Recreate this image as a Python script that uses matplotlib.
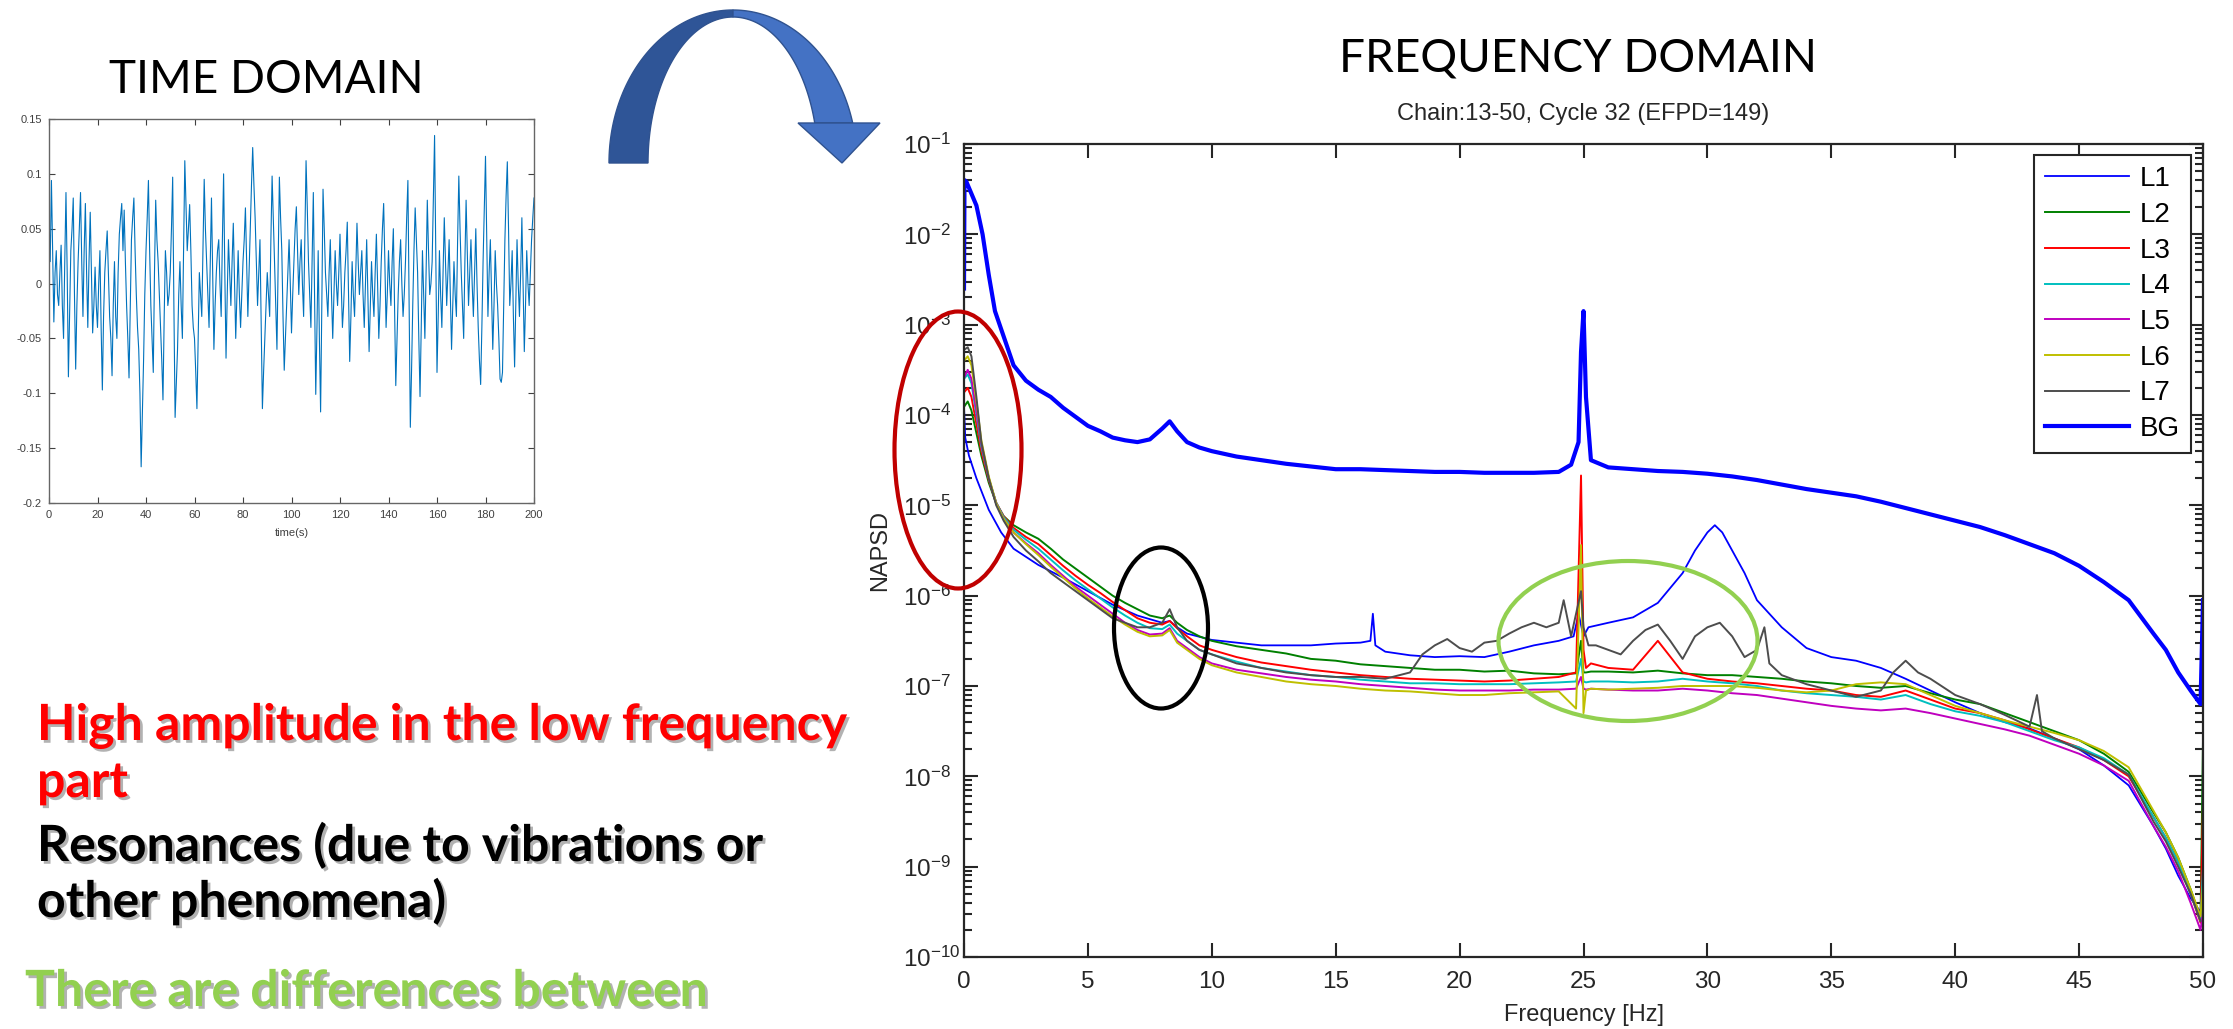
import numpy as np
import matplotlib
matplotlib.use("Agg")
import matplotlib.pyplot as plt
from matplotlib.patches import Ellipse, Polygon
import matplotlib.patheffects as pe

plt.rcParams["font.family"] = ["Liberation Sans", "DejaVu Sans"]
plt.rcParams["mathtext.fontset"] = "custom"
plt.rcParams["mathtext.rm"] = "Liberation Sans"
plt.rcParams["mathtext.default"] = "regular"

# ---- time domain signal ----
# values at whole seconds
amplitude = [
    0.06, 0.094, -0.035, 0.03, -0.02, 0.035, -0.05, 0.083, -0.085, 0.03,
    0.078, -0.078, 0.02, 0.083, -0.03, 0.073, -0.04, 0.065, -0.045, 0.015,
    -0.04, 0.03, -0.097, 0.01, 0.048, -0.03, -0.084, 0.02, -0.05, 0.045,
    0.073, 0.067, -0.02, -0.086, 0.04, 0.078, -0.01, -0.06, -0.167, -0.07,
    0.03, 0.094, -0.02, -0.081, 0.076, 0.02, -0.04, -0.106, 0.03, -0.02,
    0.01, 0.097, -0.122, -0.06, 0.02, -0.05, 0.112, 0.03, 0.072, -0.02,
    -0.05, -0.114, 0.01, -0.03, 0.095, 0.02, -0.04, 0.078, -0.06, 0.01,
    0.04, -0.03, 0.1, -0.068, 0.04, -0.02, 0.055, -0.05, 0.03, -0.04,
    0.02, 0.069, -0.03, 0.05, 0.124, 0.06, -0.02, 0.04, -0.114, -0.05,
    0.01, -0.03, 0.098, 0.02, -0.06, 0.097, 0.03, -0.079, -0.02, 0.04,
    -0.045, 0.02, 0.07, -0.01, 0.04, -0.03, 0.112, 0.02, -0.04, 0.083,
    -0.101, 0.03, -0.117, 0.086, 0.01, -0.03, 0.04, -0.05, 0.03, -0.02,
    0.045, -0.04, 0.01, 0.056, -0.071, 0.02, -0.03, 0.055, -0.01, 0.03,
    -0.04, 0.04, -0.062, 0.02, -0.03, 0.045, -0.05, 0.02, 0.073, -0.04,
    0.03, -0.02, 0.05, -0.093, -0.01, 0.04, -0.03, 0.02, 0.094, -0.131,
    -0.02, 0.069, 0.01, -0.103, 0.03, -0.05, 0.076, -0.01, 0.02, 0.135,
    -0.081, 0.03, -0.04, 0.06, -0.02, 0.04, -0.06, 0.02, -0.03, 0.098,
    0.01, -0.05, 0.076, -0.02, 0.04, -0.03, 0.05, -0.04, -0.092, 0.02,
    0.116, -0.03, 0.04, -0.06, 0.03, -0.02, -0.087, -0.081, 0.04, 0.111,
    -0.02, 0.03, -0.076, 0.04, -0.03, 0.06, -0.062, 0.03, -0.02, 0.04,
    0.078,
]
# values half way between the whole seconds
amplitude_mid = [
    0.02, 0.03, 0.01, -0.01, 0.01, -0.02, 0.02, 0.01, -0.03, 0.05,
    -0.01, -0.02, 0.05, 0.02, 0.03, 0.01, 0.02, 0.01, -0.02, -0.02,
    0.00, -0.04, -0.03, 0.03, 0.01, -0.05, -0.02, -0.03, 0.01, 0.06,
    0.03, 0.02, -0.05, -0.02, 0.06, 0.03, -0.04, -0.10, -0.12, -0.01,
    0.06, 0.03, -0.05, 0.01, 0.04, -0.01, -0.07, -0.03, 0.01, -0.01,
    0.05, -0.02, -0.09, -0.01, -0.02, 0.03, 0.07, 0.05, 0.03, -0.04,
    -0.08, -0.05, -0.01, 0.03, 0.05, -0.01, 0.02, 0.01, -0.02, 0.03,
    0.00, 0.04, 0.01, -0.01, 0.01, 0.02, 0.00, -0.01, -0.01, -0.01,
    0.04, 0.02, 0.01, 0.09, 0.09, 0.02, 0.01, -0.04, -0.08, -0.02,
    -0.01, 0.04, 0.06, -0.02, 0.02, 0.06, -0.03, -0.05, 0.01, 0.00,
    -0.01, 0.05, 0.03, 0.02, 0.00, 0.04, 0.07, -0.01, 0.02, -0.01,
    -0.04, -0.05, -0.02, 0.05, -0.01, 0.01, -0.01, -0.01, 0.00, 0.01,
    0.00, -0.02, 0.03, -0.01, -0.03, -0.01, 0.01, 0.02, 0.01, -0.01,
    0.00, -0.01, -0.02, -0.01, 0.01, 0.00, -0.02, 0.05, 0.02, -0.01,
    0.00, 0.02, -0.02, -0.05, 0.02, 0.00, -0.01, 0.06, -0.02, -0.08,
    0.03, 0.04, -0.05, -0.04, -0.01, 0.01, 0.03, 0.00, 0.08, 0.03,
    -0.03, -0.01, 0.01, 0.02, 0.01, -0.01, -0.02, -0.01, 0.04, 0.05,
    -0.02, 0.02, 0.03, 0.01, 0.00, 0.01, 0.00, -0.07, -0.04, 0.07,
    0.04, 0.01, -0.01, -0.02, 0.00, -0.05, -0.09, -0.02, 0.08, 0.05,
    0.00, -0.03, -0.02, 0.00, 0.01, 0.00, -0.02, 0.00, 0.01, 0.06,
]
time_xticks = [0, 20, 40, 60, 80, 100, 120, 140, 160, 180, 200]
time_yticks = [0.15, 0.1, 0.05, 0, -0.05, -0.1, -0.15, -0.2]
time_ylabels = ["0.15", "0.1", "0.05", "0", "-0.05", "-0.1", "-0.15", "-0.2"]

# ---- frequency domain, log10(NAPSD) ----
freq = [0, 0.15, 0.3, 0.5, 0.7, 1.0, 1.3, 1.6, 2.0, 2.5,
        3.0, 3.5, 4.0, 4.5, 5.0, 5.5, 6.0, 6.5, 7.0, 7.5,
        8.0, 8.3, 8.6, 9.0, 9.5, 10, 11, 12, 13, 14,
        15, 16, 17, 18, 19, 20, 21, 22, 23, 24,
        24.7, 24.9, 25.0, 25.1, 25.3, 26, 27, 28, 29, 30,
        31, 32, 33, 34, 35, 36, 37, 38, 39, 40,
        41, 42, 43, 44, 45, 46, 47, 48, 48.5, 49,
        49.5, 49.9, 50]
L2 = [-3.91, -3.85, -3.95, -4.20, -4.45, -4.75, -4.98, -5.12, -5.22, -5.30,
      -5.37, -5.48, -5.60, -5.70, -5.80, -5.90, -6.00, -6.08, -6.15, -6.22,
      -6.25, -6.22, -6.30, -6.38, -6.45, -6.50, -6.56, -6.60, -6.64, -6.70,
      -6.72, -6.76, -6.78, -6.80, -6.82, -6.82, -6.84, -6.83, -6.86, -6.87,
      -6.86, -6.50, -6.85, -6.85, -6.84, -6.84, -6.85, -6.83, -6.86, -6.88,
      -6.88, -6.90, -6.92, -6.95, -6.97, -7.00, -7.02, -7.00, -7.08, -7.15,
      -7.20, -7.30, -7.40, -7.50, -7.60, -7.75, -7.95, -8.40, -8.62, -8.90,
      -9.25, -9.57, -7.60]
L3 = [-3.75, -3.70, -3.80, -4.10, -4.40, -4.72, -4.97, -5.12, -5.25, -5.35,
      -5.43, -5.55, -5.67, -5.78, -5.88, -5.97, -6.07, -6.16, -6.25, -6.30,
      -6.32, -6.28, -6.36, -6.45, -6.55, -6.60, -6.68, -6.74, -6.78, -6.82,
      -6.85, -6.88, -6.90, -6.92, -6.93, -6.94, -6.95, -6.94, -6.92, -6.90,
      -6.85, -4.67, -6.60, -6.80, -6.75, -6.80, -6.82, -6.50, -6.85, -6.92,
      -6.95, -6.97, -7.00, -7.03, -7.05, -7.10, -7.12, -7.05, -7.15, -7.25,
      -7.30, -7.38, -7.48, -7.58, -7.68, -7.82, -8.00, -8.45, -8.68, -8.95,
      -9.30, -9.62, -8.30]
L4 = [-3.60, -3.55, -3.65, -4.00, -4.35, -4.70, -4.97, -5.13, -5.27, -5.38,
      -5.48, -5.60, -5.72, -5.83, -5.93, -6.03, -6.13, -6.22, -6.30, -6.36,
      -6.37, -6.32, -6.42, -6.50, -6.60, -6.65, -6.73, -6.80, -6.84, -6.88,
      -6.90, -6.93, -6.95, -6.97, -6.97, -6.98, -6.98, -6.98, -6.97, -6.96,
      -6.95, -6.70, -6.95, -6.96, -6.95, -6.95, -6.96, -6.95, -6.92, -6.95,
      -6.97, -7.00, -7.05, -7.08, -7.10, -7.12, -7.15, -7.10, -7.20, -7.28,
      -7.33, -7.40, -7.50, -7.60, -7.68, -7.80, -7.98, -8.45, -8.68, -8.95,
      -9.30, -9.60, -9.00]
L5 = [-3.59, -3.50, -3.60, -3.95, -4.32, -4.70, -4.98, -5.15, -5.30, -5.42,
      -5.53, -5.66, -5.78, -5.90, -6.00, -6.10, -6.20, -6.30, -6.38, -6.43,
      -6.42, -6.36, -6.50, -6.58, -6.68, -6.75, -6.82, -6.86, -6.90, -6.93,
      -6.95, -6.98, -7.00, -7.02, -7.04, -7.05, -7.05, -7.05, -7.04, -7.04,
      -7.03, -6.90, -7.03, -7.04, -7.03, -7.04, -7.05, -7.05, -7.03, -7.05,
      -7.08, -7.10, -7.14, -7.18, -7.22, -7.25, -7.27, -7.25, -7.30, -7.36,
      -7.42, -7.48, -7.55, -7.65, -7.75, -7.88, -8.05, -8.55, -8.78, -9.05,
      -9.40, -9.70, -9.50]
L6 = [-3.40, -3.35, -3.45, -3.85, -4.28, -4.68, -4.98, -5.15, -5.30, -5.43,
      -5.55, -5.68, -5.80, -5.92, -6.03, -6.13, -6.23, -6.32, -6.40, -6.45,
      -6.44, -6.38, -6.52, -6.60, -6.70, -6.77, -6.85, -6.90, -6.95, -6.98,
      -7.00, -7.03, -7.05, -7.06, -7.08, -7.10, -7.10, -7.08, -7.07, -7.06,
      -7.25, -5.44, -7.30, -7.05, -7.03, -7.04, -7.03, -7.02, -7.00, -7.00,
      -7.00, -7.02, -7.05, -7.07, -7.05, -6.98, -6.96, -6.98, -7.10, -7.22,
      -7.30, -7.38, -7.45, -7.52, -7.60, -7.72, -7.90, -8.38, -8.62, -8.90,
      -9.25, -9.55, -9.20]

freq_L7 = [0, 0.15, 0.3, 0.5, 0.7, 1.0, 1.3, 1.6, 2.0, 2.5,
           3.0, 3.5, 4.0, 4.5, 5.0, 5.5, 6.0, 6.5, 7.0, 7.5,
           8.0, 8.3, 8.6, 9.0, 9.5, 10, 11, 12, 13, 14,
           15, 16, 17, 18, 18.5, 19, 19.5, 20, 20.5, 21,
           21.5, 22, 22.5, 23, 23.5, 24, 24.2, 24.5, 24.9, 25.0,
           25.2, 25.5, 26, 26.5, 27, 27.5, 28, 28.5, 29, 29.5,
           30, 30.5, 31, 31.5, 32, 32.3, 32.5, 33, 34, 35,
           36, 37, 37.5, 38, 38.5, 39, 40, 41, 42, 43,
           43.3, 43.5, 44, 45, 46, 47, 48, 48.5, 49, 49.5,
           49.9]
L7 = [-3.28, -3.25, -3.35, -3.80, -4.30, -4.70, -5.00, -5.17, -5.35, -5.50,
      -5.62, -5.75, -5.85, -5.95, -6.05, -6.15, -6.25, -6.30, -6.35, -6.35,
      -6.30, -6.15, -6.35, -6.50, -6.60, -6.65, -6.75, -6.80, -6.85, -6.88,
      -6.90, -6.90, -6.92, -6.85, -6.65, -6.55, -6.48, -6.58, -6.62, -6.52,
      -6.50, -6.42, -6.35, -6.30, -6.35, -6.30, -6.05, -6.45, -5.95, -6.35,
      -6.55, -6.55, -6.60, -6.65, -6.50, -6.38, -6.32, -6.50, -6.70, -6.45,
      -6.35, -6.30, -6.45, -6.68, -6.60, -6.35, -6.75, -6.88, -6.98, -7.05,
      -7.12, -7.05, -6.85, -6.72, -6.85, -6.92, -7.10, -7.20, -7.32, -7.45,
      -7.10, -7.50, -7.58, -7.70, -7.82, -7.98, -8.50, -8.72, -9.00, -9.30,
      -9.60]

freq_L1 = [0, 0.05, 0.2, 0.5, 1.0, 1.5, 2.0, 3.0, 4.0, 5.0,
           6.0, 7.0, 8.0, 8.3, 8.6, 9.0, 10, 11, 12, 13,
           14, 15, 16, 16.4, 16.5, 16.6, 17, 18, 19, 20,
           21, 22, 23, 24, 24.6, 24.8, 25.0, 25.2, 26, 27,
           28, 29, 29.5, 30, 30.3, 30.6, 31, 31.5, 32, 33,
           34, 35, 36, 37, 38, 39, 40, 41, 42, 43,
           44, 45, 46, 47, 48, 48.5, 49, 49.5, 49.9]
L1 = [-3.91, -4.25, -4.45, -4.70, -5.05, -5.30, -5.48, -5.66, -5.80, -5.95,
      -6.10, -6.22, -6.30, -6.28, -6.35, -6.42, -6.49, -6.52, -6.55, -6.55,
      -6.55, -6.53, -6.52, -6.50, -6.20, -6.55, -6.62, -6.66, -6.68, -6.67,
      -6.68, -6.62, -6.55, -6.50, -6.45, -6.20, -6.45, -6.35, -6.30, -6.24,
      -6.08, -5.75, -5.50, -5.30, -5.22, -5.30, -5.50, -5.75, -6.05, -6.35,
      -6.58, -6.68, -6.72, -6.80, -6.92, -7.05, -7.18, -7.30, -7.40, -7.47,
      -7.58, -7.70, -7.88, -8.10, -8.55, -8.80, -9.10, -9.35, -9.50]

freq_BG = [0, 0.02, 0.1, 0.3, 0.5, 0.75, 1.0, 1.25, 1.5, 2.0,
           2.5, 3.0, 3.5, 4.0, 4.5, 5.0, 5.5, 6.0, 6.5, 7.0,
           7.5, 8.0, 8.3, 8.6, 9.0, 9.5, 10, 11, 12, 13,
           14, 15, 16, 17, 18, 19, 20, 21, 22, 23,
           24, 24.5, 24.8, 24.9, 25.0, 25.1, 25.3, 26, 27, 28,
           29, 30, 31, 32, 33, 34, 35, 36, 37, 38,
           39, 40, 41, 42, 43, 44, 45, 46, 47, 48,
           48.5, 49, 49.5, 49.9, 50]
BG = [-2.60, -1.40, -1.42, -1.55, -1.68, -2.00, -2.45, -2.85, -3.05, -3.45,
      -3.62, -3.72, -3.80, -3.92, -4.02, -4.12, -4.18, -4.25, -4.28, -4.30,
      -4.27, -4.15, -4.07, -4.18, -4.30, -4.36, -4.40, -4.46, -4.50, -4.54,
      -4.57, -4.60, -4.60, -4.61, -4.62, -4.63, -4.63, -4.64, -4.64, -4.64,
      -4.63, -4.55, -4.30, -3.30, -2.85, -3.80, -4.50, -4.58, -4.60, -4.62,
      -4.63, -4.65, -4.68, -4.72, -4.77, -4.82, -4.86, -4.90, -4.96, -5.03,
      -5.10, -5.17, -5.24, -5.33, -5.43, -5.53, -5.67, -5.85, -6.05, -6.42,
      -6.60, -6.85, -7.05, -7.20, -6.05]

series = [
    ("L1", freq_L1, L1, (0, 0, 1), 1.3),
    ("L2", freq, L2, (0, 0.5, 0), 1.4),
    ("L3", freq, L3, (1, 0, 0), 1.4),
    ("L4", freq, L4, (0, 0.75, 0.75), 1.4),
    ("L5", freq, L5, (0.75, 0, 0.75), 1.4),
    ("L6", freq, L6, (0.75, 0.75, 0), 1.4),
    ("L7", freq_L7, L7, (0.3, 0.3, 0.3), 1.4),
    ("BG", freq_BG, BG, (0, 0, 1), 3.0),
]
freq_xticks = [0, 5, 10, 15, 20, 25, 30, 35, 40, 45, 50]

W, H = 2233, 1029


def box(left, top, right, bottom):
    return [left / W, 1 - bottom / H, (right - left) / W, (bottom - top) / H]


fig = plt.figure(figsize=(W / 100, H / 100), dpi=100)

# ---- time domain axes ----
time_s = np.arange(0, 200.25, 0.5)
signal = np.empty(len(time_s))
signal[0::2] = amplitude
signal[1::2] = amplitude_mid

ax_t = fig.add_axes(box(49, 119, 534, 503))
ax_t.plot(time_s, signal, color="#0072BD", lw=0.8)
ax_t.set_xlim(0, 200)
ax_t.set_ylim(-0.2, 0.15)
ax_t.set_xticks(time_xticks)
ax_t.set_yticks(time_yticks)
ax_t.set_yticklabels(time_ylabels)
ax_t.tick_params(direction="in", top=True, right=True, length=4, width=0.8,
                 labelsize=8, colors="#404040", pad=5)
for s in ax_t.spines.values():
    s.set_color("#666666")
    s.set_linewidth(1.0)
ax_t.set_xlabel("time(s)", fontsize=8, color="#404040")
ax_t.xaxis.set_label_coords(0.5, -0.065)

# ---- frequency domain axes ----
ax_f = fig.add_axes(box(964, 144, 2203, 957))
for name, f, v, c, lw in series:
    ax_f.plot(f, 10.0 ** np.array(v), color=c, lw=lw, label=name)
ax_f.set_yscale("log")
ax_f.set_xlim(0, 50)
ax_f.set_ylim(1e-10, 1e-1)
ax_f.set_xticks(freq_xticks)
ax_f.set_yticks([10.0 ** k for k in range(-10, 0)])
ax_f.yaxis.set_minor_locator(matplotlib.ticker.LogLocator(base=10, subs=np.arange(2, 10), numticks=20))
ax_f.yaxis.set_minor_formatter(matplotlib.ticker.NullFormatter())
ax_f.tick_params(which="both", direction="in", top=True, right=True,
                 colors="#262626", width=1.5, labelsize=17.5)
ax_f.tick_params(which="major", length=10)
ax_f.tick_params(which="minor", length=6)
ax_f.tick_params(axis="x", pad=10)
ax_f.tick_params(axis="y", pad=44)
plt.setp(ax_f.get_yticklabels(), ha="left")
for s in ax_f.spines.values():
    s.set_color("#262626")
    s.set_linewidth(1.6)
ax_f.set_title("Chain:13-50, Cycle 32 (EFPD=149)", fontsize=17, color="#262626", pad=17)
ax_f.set_xlabel("Frequency [Hz]", fontsize=17, color="#262626")
ax_f.xaxis.set_label_coords(0.5, -0.058)
ax_f.set_ylabel("NAPSD", fontsize=17, color="#262626")
ax_f.yaxis.set_label_coords(-0.059, 0.5)
leg = ax_f.legend(loc="upper right", bbox_to_anchor=(0.9903, 0.9865), borderaxespad=0,
                  fontsize=20, handlelength=3.0, handletextpad=0.4, labelspacing=0.35,
                  borderpad=0.4, fancybox=False, framealpha=1, edgecolor="#262626")
leg.get_frame().set_linewidth(1.5)

# ---- overlay in pixel coordinates: headings, arrow, ellipses, notes ----
ov = fig.add_axes([0, 0, 1, 1])
ov.set_xlim(0, W)
ov.set_ylim(H, 0)
ov.axis("off")

ov.text(266, 93, "TIME DOMAIN", fontsize=33, family="Lato", ha="center", va="baseline")
ov.text(1578, 71, "FREQUENCY DOMAIN", fontsize=33, family="Lato", ha="center", va="baseline")

# curved arrow
cx, base = 733, 163
ao, bo, ai, bi = 124, 153, 85, 146
th = np.linspace(np.pi, np.pi / 2, 60)
left_band = np.vstack([
    np.column_stack([cx + ao * np.cos(th), base - bo * np.sin(th)]),
    np.column_stack([cx + ai * np.cos(th[::-1]), base - bi * np.sin(th[::-1])]),
])
th_o = np.linspace(np.pi / 2, np.arcsin(40 / bo), 60)
th_i = np.linspace(np.arcsin(40 / bi), np.pi / 2, 60)
right_band = np.vstack([
    np.column_stack([cx + ao * np.cos(th_o), base - bo * np.sin(th_o)]),
    np.column_stack([cx + ai * np.cos(th_i), base - bi * np.sin(th_i)]),
])
ov.add_patch(Polygon(left_band, closed=True, fc="#2F5597", ec="#2F528F", lw=1))
ov.add_patch(Polygon(right_band, closed=True, fc="#4472C4", ec="#2F528F", lw=1))
ov.add_patch(Polygon([(798, 123), (880, 123), (842, 163)], closed=True,
                     fc="#4472C4", ec="#2F528F", lw=1))

ov.add_patch(Ellipse((958, 450), 127, 277, fill=False, ec="#C00000", lw=3))
ov.add_patch(Ellipse((1161, 628), 94, 161, fill=False, ec="black", lw=3))
ov.add_patch(Ellipse((1628, 641), 259, 160, fill=False, ec="#92D050", lw=3))

shadow = [pe.SimplePatchShadow(offset=(2, -2), shadow_rgbFace="#808080", alpha=0.6), pe.Normal()]
notes = [
    (37, 740, "High amplitude in the low frequency", "#FF0000"),
    (37, 797, "part", "#FF0000"),
    (37, 861, "Resonances (due to vibrations or", "black"),
    (37, 917, "other phenomena)", "black"),
    (25, 1006, "There are differences between", "#92D050"),
]
for x, y, txt, col in notes:
    ov.text(x, y, txt, fontsize=36, family="Lato", weight="bold", color=col,
            va="baseline", path_effects=shadow)

fig.savefig("out.png", dpi=100)
